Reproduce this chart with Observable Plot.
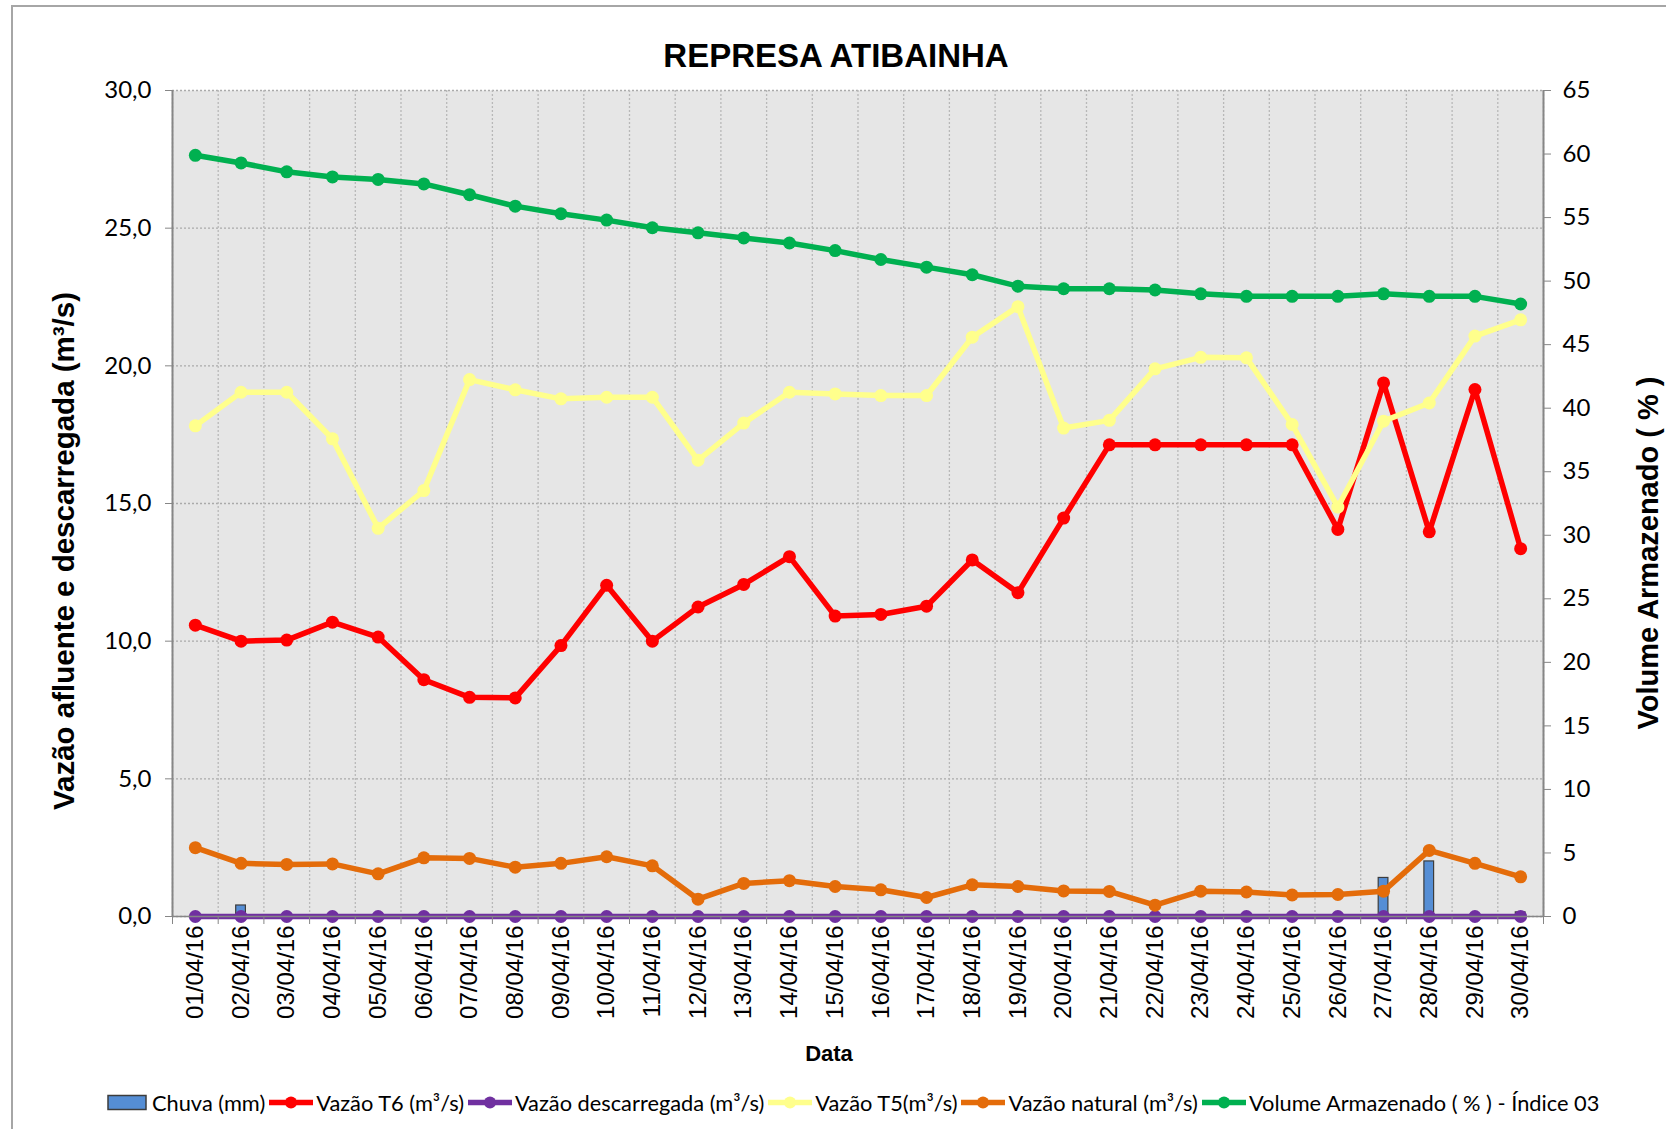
<!DOCTYPE html>
<html>
<head>
<meta charset="utf-8">
<script src="https://cdn.jsdelivr.net/npm/d3@7"></script>
<script src="https://cdn.jsdelivr.net/npm/@observablehq/plot@0.6"></script>
<style>
  html, body { margin: 0; padding: 0; background: #fff; }
  #wrap { position: relative; width: 1666px; height: 1129px; overflow: hidden; background: #fff; }
  #border { position: absolute; left: 11px; top: 5px; width: 1800px; height: 1300px; border: 2px solid #a6a6a6; box-sizing: border-box; }
  #chart { position: absolute; left: 0; top: 0; }
  .t { position: absolute; white-space: nowrap; font-family: "Liberation Sans", Arial, sans-serif; font-weight: bold; color: #000; line-height: 1; }
  #title { left: 836px; top: 55px; transform: translate(-50%, -50%); font-size: 33px; }
  #ytitle { left: 64px; top: 551px; transform: translate(-50%, -50%) rotate(-90deg); font-size: 29.5px; }
  #y2title { left: 1648px; top: 553px; transform: translate(-50%, -50%) rotate(-90deg); font-size: 29px; }
  #xtitle { left: 829px; top: 1054px; transform: translate(-50%, -50%); font-size: 22px; }
  #legend { position: absolute; left: 106px; top: 1102px; transform: translateY(-50%); display: flex; align-items: center; white-space: nowrap; font-family: Lato, "Noto Sans", sans-serif; font-size: 21.8px; color: #000; }
  #legend .item { display: flex; align-items: center; margin-right: 3px; }
  #legend svg { margin-right: 2px; }
</style>
</head>
<body>
<div id="wrap">
  <div id="border"></div>
  <div id="chart"></div>
  <div class="t" id="title">REPRESA ATIBAINHA</div>
  <div class="t" id="ytitle">Vazão afluente e descarregada (m³/s)</div>
  <div class="t" id="y2title">Volume Armazenado ( % )</div>
  <div class="t" id="xtitle">Data</div>
  <div id="legend"></div>
</div>
<script>
// ---- Data ----
const dates = ["01/04/16","02/04/16","03/04/16","04/04/16","05/04/16","06/04/16","07/04/16","08/04/16","09/04/16","10/04/16",
               "11/04/16","12/04/16","13/04/16","14/04/16","15/04/16","16/04/16","17/04/16","18/04/16","19/04/16","20/04/16",
               "21/04/16","22/04/16","23/04/16","24/04/16","25/04/16","26/04/16","27/04/16","28/04/16","29/04/16","30/04/16"];
const chuva = [0, 0.4, 0, 0, 0, 0, 0, 0, 0, 0,
               0, 0, 0, 0, 0, 0, 0, 0, 0, 0,
               0, 0, 0, 0, 0, 0, 1.4, 2.0, 0, 0.15];
const vazaoT6 = [10.58, 10.0, 10.04, 10.69, 10.15, 8.6, 7.96, 7.94, 9.84, 12.03,
                 10.0, 11.24, 12.06, 13.07, 10.91, 10.97, 11.27, 12.95, 11.76, 14.47,
                 17.13, 17.13, 17.13, 17.13, 17.13, 14.06, 19.38, 13.97, 19.14, 13.36];
const vazaoDescarregada = [0, 0, 0, 0, 0, 0, 0, 0, 0, 0,
                           0, 0, 0, 0, 0, 0, 0, 0, 0, 0,
                           0, 0, 0, 0, 0, 0, 0, 0, 0, 0];
const vazaoT5 = [17.82, 19.04, 19.04, 17.35, 14.1, 15.47, 19.5, 19.13, 18.8, 18.86,
                 18.86, 16.57, 17.92, 19.04, 18.98, 18.92, 18.92, 21.04, 22.15, 17.74,
                 18.02, 19.89, 20.31, 20.29, 17.87, 14.87, 17.99, 18.65, 21.08, 21.67];
const vazaoNatural = [2.5, 1.93, 1.89, 1.91, 1.55, 2.13, 2.11, 1.79, 1.93, 2.17,
                      1.84, 0.63, 1.2, 1.3, 1.09, 0.97, 0.69, 1.15, 1.09, 0.93,
                      0.91, 0.41, 0.92, 0.89, 0.78, 0.8, 0.92, 2.4, 1.93, 1.44];
const volume = [59.9, 59.3, 58.6, 58.2, 58.0, 57.65, 56.8, 55.9, 55.3, 54.8,
                54.2, 53.8, 53.4, 53.0, 52.4, 51.7, 51.1, 50.5, 49.6, 49.4,
                49.4, 49.3, 49.0, 48.8, 48.8, 48.8, 49.0, 48.8, 48.8, 48.2];
const leftTicks = [0, 5, 10, 15, 20, 25, 30];
const rightTicks = [0, 5, 10, 15, 20, 25, 30, 35, 40, 45, 50, 55, 60, 65];
const LEFT_MAX = 30, RIGHT_MAX = 65;

// ---- Build ----
const toLeft = v => v * LEFT_MAX / RIGHT_MAX;
const rows = dates.map((d, k) => ({
  i: k + 1, date: d, chuva: chuva[k], t6: vazaoT6[k], desc: vazaoDescarregada[k],
  t5: vazaoT5[k], nat: vazaoNatural[k], vol: toLeft(volume[k])
}));

const series = [
  {key: "t6", color: "#ff0000", label: "Vazão T6 (m³/s)"},
  {key: "desc", color: "#7030a0", label: "Vazão descarregada (m³/s)"},
  {key: "t5", color: "#ffff8c", label: "Vazão T5(m³/s)"},
  {key: "nat", color: "#e46c0a", label: "Vazão natural (m³/s)"},
  {key: "vol", color: "#00b050", label: "Volume Armazenado ( % ) - Índice 03"}
];
const barColor = "#558ed5";
const axisColor = "#868686";

const lineMarks = series.flatMap(s => [
  Plot.line(rows, {x: "i", y: s.key, stroke: s.color, strokeWidth: 5.5, strokeLinejoin: "round"}),
  Plot.dot(rows, {x: "i", y: s.key, r: 6.5, fill: s.color, stroke: "none"})
]);

const halves = d3.range(0.5, dates.length + 1, 1);
const centers = d3.range(1, dates.length + 1);

const chart = Plot.plot({
  width: 1666,
  height: 1129,
  marginLeft: 172,
  marginRight: 123,
  marginTop: 90,
  marginBottom: 213,
  style: {background: "none", overflow: "visible"},
  x: {domain: [0.5, dates.length + 0.5]},
  y: {domain: [0, LEFT_MAX]},
  marks: [
    Plot.frame({fill: "#e6e6e6", stroke: "none"}),
    Plot.gridY({ticks: leftTicks, stroke: "#aaaaaa", strokeOpacity: 1, strokeDasharray: "2,2", strokeWidth: 1.3}),
    Plot.gridX({ticks: halves, stroke: "#b8b8b8", strokeOpacity: 1, strokeDasharray: "2,2", strokeWidth: 1.3}),
    Plot.rect(rows, {x1: d => d.i - 0.5, x2: d => d.i + 0.5, y1: 0, y2: "chuva",
                     insetLeft: 18, insetRight: 18, fill: barColor, stroke: "#3c3c3c", strokeWidth: 1.2}),
    ...lineMarks,
    Plot.ruleX([0.5, dates.length + 0.5], {stroke: axisColor, strokeWidth: 2}),
    Plot.ruleY([0], {stroke: axisColor, strokeWidth: 1.5}),
    Plot.axisY({ticks: leftTicks, tickFormat: d => d.toFixed(1).replace(".", ","), tickSize: 7, tickPadding: 14,
                label: null, stroke: axisColor, fill: "#000", fontSize: 24, fontFamily: "Lato, 'Noto Sans', sans-serif"}),
    Plot.axisY({anchor: "right", ticks: rightTicks.map(toLeft), tickFormat: d => String(Math.round(d * RIGHT_MAX / LEFT_MAX)),
                tickSize: 7, tickPadding: 12, label: null, stroke: axisColor, fill: "#000", fontSize: 24,
                fontFamily: "Lato, 'Noto Sans', sans-serif"}),
    Plot.axisX({ticks: halves, tickFormat: () => "", tickSize: 8, label: null, stroke: axisColor}),
    Plot.axisX({ticks: centers, tickFormat: i => dates[i - 1], tickSize: 0, tickPadding: 9, tickRotate: -90,
                label: null, fill: "#000", fontSize: 24, fontFamily: "'Liberation Sans', Arial, sans-serif"})
  ]
});
document.getElementById("chart").appendChild(chart);

// ---- Legend ----
const legend = document.getElementById("legend");
function addItem(swatchSvg, label) {
  const item = document.createElement("div");
  item.className = "item";
  item.innerHTML = swatchSvg + "<span>" + label + "</span>";
  legend.appendChild(item);
}
addItem(`<svg width="44" height="20"><rect x="2" y="3" width="38" height="14" fill="${barColor}" stroke="#3c3c3c" stroke-width="1.5"/></svg>`, "Chuva (mm)");
series.forEach(s => {
  addItem(`<svg width="46" height="20"><line x1="1" x2="45" y1="10" y2="10" stroke="${s.color}" stroke-width="5.5"/><circle cx="23" cy="10" r="6" fill="${s.color}"/></svg>`, s.label);
});
</script>
</body>
</html>
